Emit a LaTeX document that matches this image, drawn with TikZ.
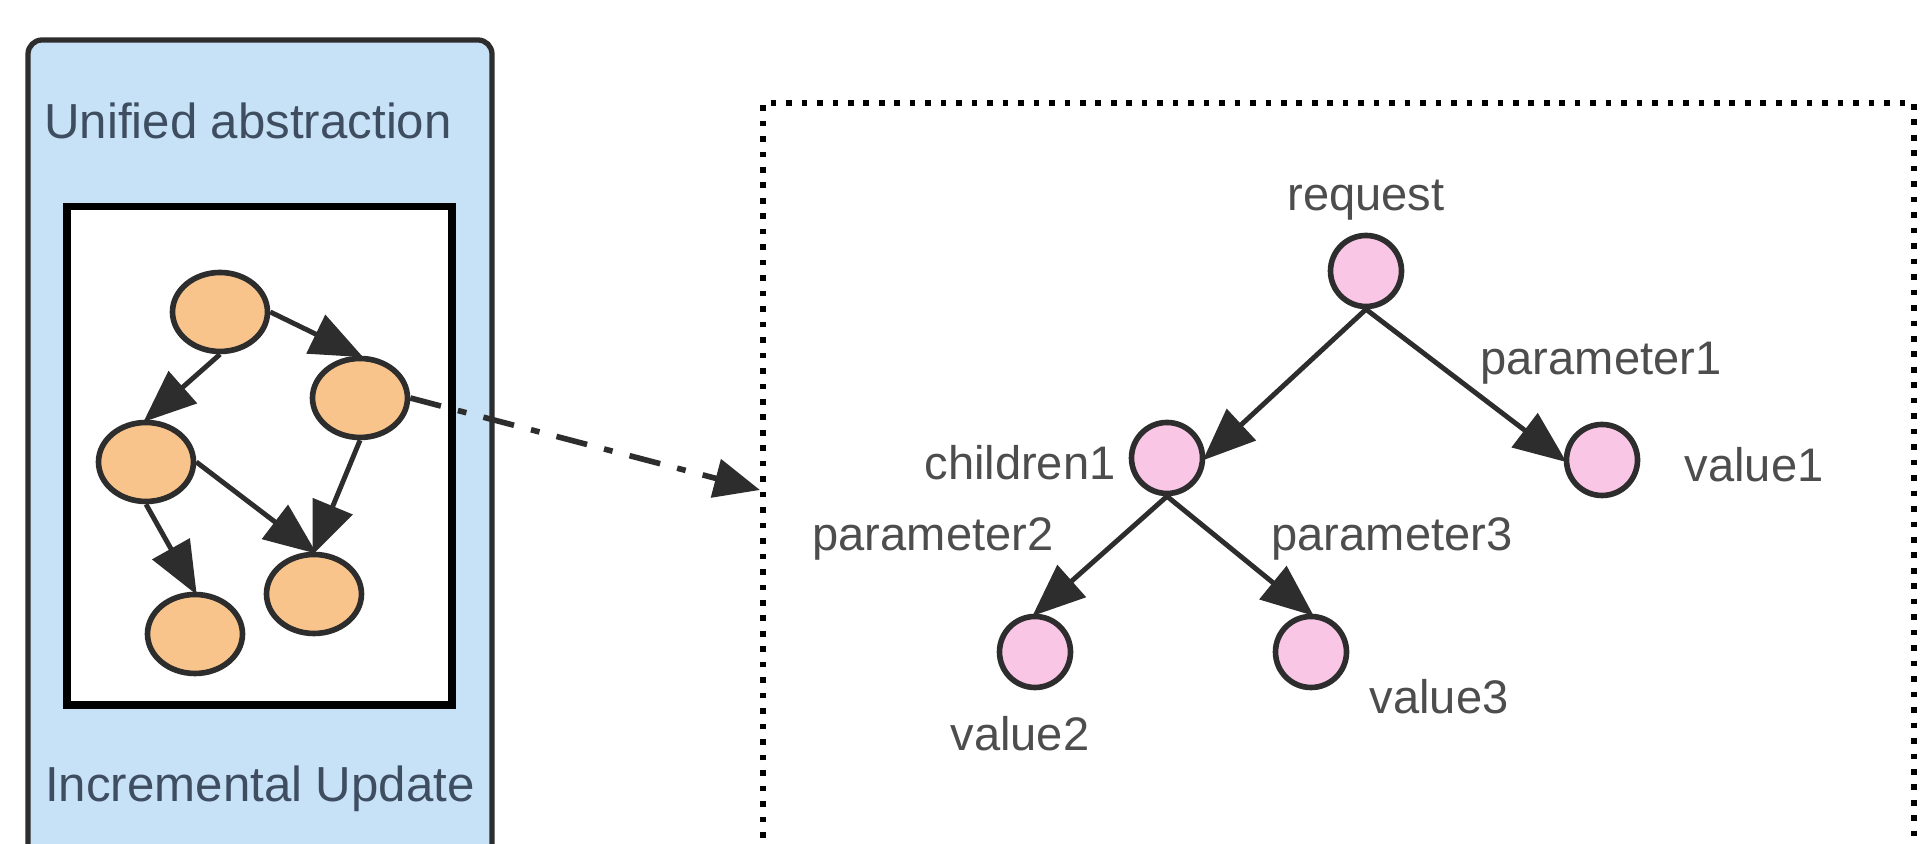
\documentclass[tikz,border=0pt]{standalone}
\usepackage{fontspec}
\setmainfont{Liberation Sans}
\usepackage{tikz}
\usetikzlibrary{shapes.geometric,arrows.meta}
\definecolor{bluefill}{RGB}{199,225,247}
\definecolor{orangefill}{RGB}{249,196,140}
\definecolor{pinkfill}{RGB}{250,198,230}
\definecolor{inkgray}{RGB}{45,45,45}
\definecolor{lgray}{RGB}{77,77,77}
\definecolor{slate}{RGB}{62,78,96}
\tikzset{
  >= latex,
  og/.style={ellipse, draw=inkgray, fill=orangefill, line width=1.6pt, minimum width=0.95cm, minimum height=0.79cm, inner sep=0pt},
  pk/.style={circle, draw=inkgray, fill=pinkfill, line width=1.6pt, minimum size=0.71cm, inner sep=0pt},
  lb/.style={text=lgray, font=\fontsize{13.4pt}{15pt}\selectfont, inner sep=0pt},
  tl/.style={text=slate, font=\fontsize{14pt}{16pt}\selectfont, inner sep=0pt},
  ed/.style={draw=inkgray, line width=1.4pt, -{Triangle[length=15pt,width=12pt]}, shorten >=-1pt}
}
\begin{document}
\begin{tikzpicture}
  \clip (0,0) rectangle (19.26,8.44);
  \fill[white] (0,0) rectangle (19.26,8.44);
  \draw[inkgray, fill=bluefill, line width=1.5pt, rounded corners=4pt] (0.28,-0.4) rectangle (4.92,8.04);
  \draw[black, fill=white, line width=2pt] (0.67,1.39) rectangle (4.52,6.37);
  \draw[black, line width=1.7pt, dash pattern=on 1.6pt off 2.8pt] (7.63,-0.4) -- (7.63,7.41) -- (19.14,7.41) -- (19.14,-0.4);
  \node[tl] (uni) at (2.48,7.23) {Unified abstraction};
  \node[tl] (inc) at (2.60,0.55) {Incremental Update};

  \node[og] (a) at (2.20,5.32) {};
  \node[og] (b) at (3.60,4.46) {};
  \node[og] (c) at (1.46,3.82) {};
  \node[og] (d) at (3.14,2.50) {};
  \node[og] (e) at (1.95,2.10) {};
  \draw[ed] (a.east) -- (b.north);
  \draw[ed] (a.south) -- (c.north);
  \draw[ed] (c.east) -- (d.north);
  \draw[ed] (b.south) -- (d.north);
  \draw[ed] (c.south) -- (e.north);

  \coordinate (tip) at (7.60,3.54);
  \draw[inkgray, line width=1.6pt, dash pattern=on 9pt off 5pt on 2.5pt off 5pt, -{Triangle[length=13pt,width=11pt]}] (b.east) -- (tip);

  \node[pk] (req) at (13.66,5.73) {};
  \node[pk] (ch1) at (11.67,3.86) {};
  \node[pk] (v1) at (16.02,3.84) {};
  \node[pk] (v2) at (10.35,1.92) {};
  \node[pk] (v3) at (13.11,1.92) {};
  \draw[ed] (req.south) -- (ch1.east);
  \draw[ed] (req.south) -- (v1.west);
  \draw[ed] (ch1.south) -- (v2.north);
  \draw[ed] (ch1.south) -- (v3.north);

  \node[lb] (lreq) at (13.66,6.44) {request};
  \node[lb] (lp1) at (16.01,4.81) {parameter1};
  \node[lb] (lch1) at (10.20,3.81) {children1};
  \node[lb] (lv1) at (17.54,3.79) {value1};
  \node[lb] (lp2) at (9.33,3.05) {parameter2};
  \node[lb] (lp3) at (13.92,3.05) {parameter3};
  \node[lb] (lv2) at (10.20,1.10) {value2};
  \node[lb] (lv3) at (14.39,1.47) {value3};
\end{tikzpicture}
\end{document}
